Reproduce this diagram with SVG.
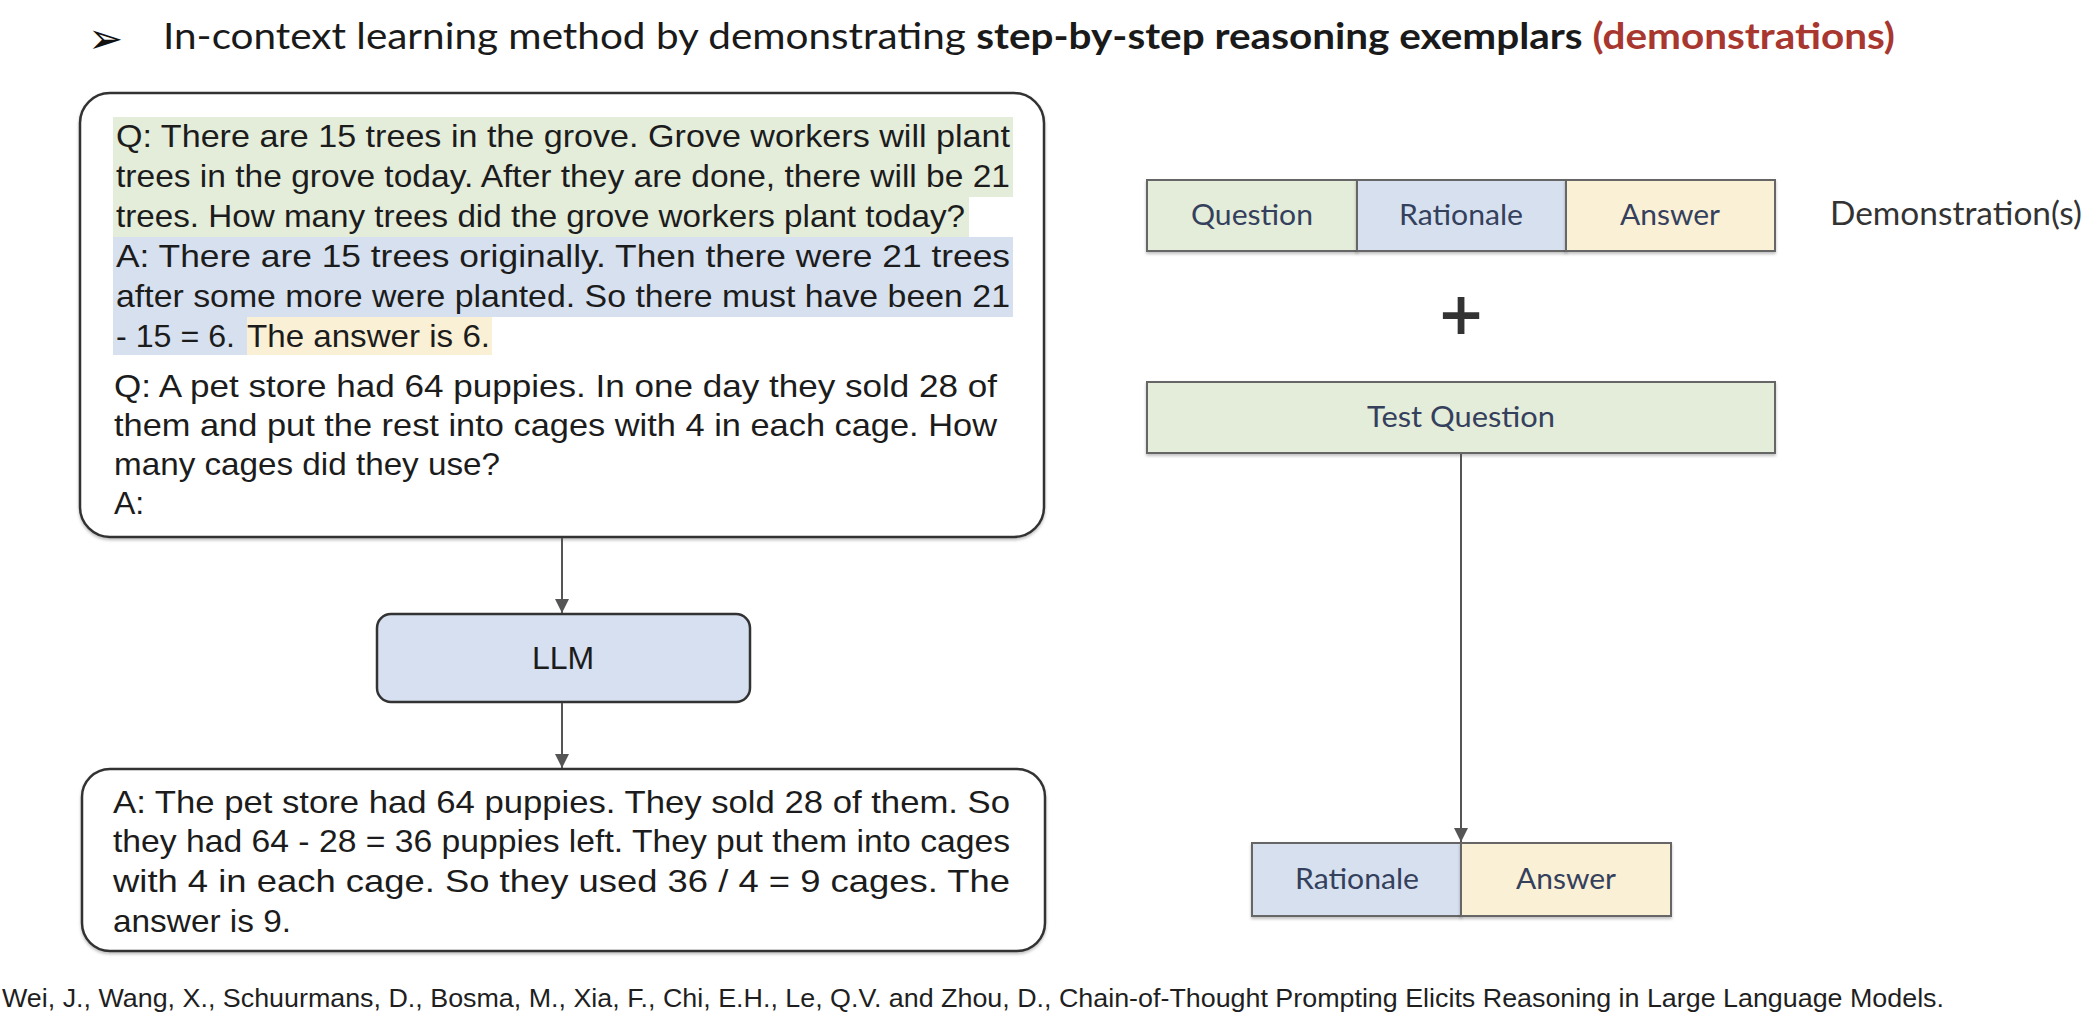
<svg xmlns="http://www.w3.org/2000/svg" width="2090" height="1022" viewBox="0 0 2090 1022">
<style>
.body{font-family:"Liberation Sans",Arial,sans-serif;font-size:32px;fill:#1c1c1c}
.lbl{font-family:Lato,"Open Sans",sans-serif;font-size:29px;fill:#34405c;text-anchor:middle}
.box{stroke:#333;stroke-width:2.5}
.cell{stroke:#666;stroke-width:2}
.conn{stroke:#555;stroke-width:2;fill:none}
.g{fill:#e4ecda}.b{fill:#d6e0ef}.y{fill:#faf0d6}
</style>
<defs>
<marker id="ah" viewBox="0 0 10 10" refX="10" refY="5" markerWidth="7" markerHeight="8" markerUnits="strokeWidth" orient="auto">
<path d="M0,0 L10,5 L0,10 z" fill="#555"/>
</marker>
<filter id="sh" x="-5%" y="-5%" width="110%" height="115%">
<feDropShadow dx="0" dy="2" stdDeviation="1.5" flood-color="#000" flood-opacity="0.25"/>
</filter>
</defs>
<rect width="2090" height="1022" fill="#ffffff"/>

<g id="title">
<text x="88" y="53" font-family="DejaVu Sans,sans-serif" font-size="42" fill="#111">➢</text>
<text x="163" y="49" font-family="Lato,'Open Sans',sans-serif" font-size="36" fill="#1a1a1a" textLength="1732" lengthAdjust="spacingAndGlyphs">In-context learning method by demonstrating <tspan font-weight="bold">step-by-step reasoning exemplars</tspan><tspan font-weight="bold" fill="#a8372f"> (demonstrations)</tspan></text>
</g>

<g id="prompt-box">
<rect class="box" x="80" y="93" width="964" height="444" rx="30" fill="#fff" filter="url(#sh)"/>
<rect class="g" x="113" y="117" width="900" height="80"/>
<rect class="g" x="113" y="197" width="856" height="40"/>
<rect class="b" x="113" y="237" width="900" height="80"/>
<rect class="b" x="113" y="317" width="134" height="38"/>
<rect class="y" x="247" y="317" width="245" height="38"/>
<text class="body" x="116" y="147" textLength="894" lengthAdjust="spacingAndGlyphs">Q: There are 15 trees in the grove. Grove workers will plant</text>
<text class="body" x="116" y="187" textLength="894" lengthAdjust="spacingAndGlyphs">trees in the grove today. After they are done, there will be 21</text>
<text class="body" x="116" y="227" textLength="849" lengthAdjust="spacingAndGlyphs">trees. How many trees did the grove workers plant today?</text>
<text class="body" x="116" y="267" textLength="894" lengthAdjust="spacingAndGlyphs">A: There are 15 trees originally. Then there were 21 trees</text>
<text class="body" x="116" y="307" textLength="894" lengthAdjust="spacingAndGlyphs">after some more were planted. So there must have been 21</text>
<text class="body" x="116" y="347" textLength="119" lengthAdjust="spacingAndGlyphs">- 15 = 6.</text>
<text class="body" x="247" y="347" textLength="243" lengthAdjust="spacingAndGlyphs">The answer is 6.</text>
<text class="body" x="114" y="397" textLength="883" lengthAdjust="spacingAndGlyphs">Q: A pet store had 64 puppies. In one day they sold 28 of</text>
<text class="body" x="114" y="436" textLength="883" lengthAdjust="spacingAndGlyphs">them and put the rest into cages with 4 in each cage. How</text>
<text class="body" x="114" y="475" textLength="386" lengthAdjust="spacingAndGlyphs">many cages did they use?</text>
<text class="body" x="114" y="514">A:</text>
</g>

<g id="llm">
<rect class="box" x="377" y="614" width="373" height="88" rx="14" fill="#d6e0f0"/>
<text class="body" x="563" y="669" text-anchor="middle">LLM</text>
</g>

<g id="output-box">
<rect class="box" x="82" y="769" width="963" height="182" rx="28" fill="#fff" filter="url(#sh)"/>
<text class="body" x="113" y="813" textLength="897" lengthAdjust="spacingAndGlyphs">A: The pet store had 64 puppies. They sold 28 of them. So</text>
<text class="body" x="113" y="852" textLength="897" lengthAdjust="spacingAndGlyphs">they had 64 - 28 = 36 puppies left. They put them into cages</text>
<text class="body" x="113" y="892" textLength="897" lengthAdjust="spacingAndGlyphs">with 4 in each cage. So they used 36 / 4 = 9 cages. The</text>
<text class="body" x="113" y="932" textLength="178" lengthAdjust="spacingAndGlyphs">answer is 9.</text>
</g>

<g id="demonstration">
<rect class="cell g" x="1147" y="180" width="210" height="71" filter="url(#sh)"/>
<rect class="cell b" x="1357" y="180" width="209" height="71" filter="url(#sh)"/>
<rect class="cell y" x="1566" y="180" width="209" height="71" filter="url(#sh)"/>
<text class="lbl" x="1252" y="225" textLength="122" lengthAdjust="spacingAndGlyphs">Question</text>
<text class="lbl" x="1461" y="225" textLength="124" lengthAdjust="spacingAndGlyphs">Rationale</text>
<text class="lbl" x="1670" y="225" textLength="100" lengthAdjust="spacingAndGlyphs">Answer</text>
<text x="1830" y="225" font-family="Lato,'Open Sans',sans-serif" font-size="32" fill="#333" textLength="252" lengthAdjust="spacingAndGlyphs">Demonstration(s)</text>
</g>

<g id="plus">
<text x="1461" y="334" text-anchor="middle" font-family="DejaVu Sans,sans-serif" font-weight="bold" font-size="58" fill="#333">+</text>
</g>

<g id="test-question">
<rect class="cell g" x="1147" y="382" width="628" height="71" filter="url(#sh)"/>
<text class="lbl" x="1461" y="427" textLength="188" lengthAdjust="spacingAndGlyphs">Test Question</text>
</g>

<g id="output-cells">
<rect class="cell b" x="1252" y="843" width="209" height="73" filter="url(#sh)"/>
<rect class="cell y" x="1461" y="843" width="210" height="73" filter="url(#sh)"/>
<text class="lbl" x="1357" y="889" textLength="124" lengthAdjust="spacingAndGlyphs">Rationale</text>
<text class="lbl" x="1566" y="889" textLength="100" lengthAdjust="spacingAndGlyphs">Answer</text>
</g>

<g id="connectors">
<line class="conn" x1="562" y1="538" x2="562" y2="613" marker-end="url(#ah)"/>
<line class="conn" x1="562" y1="703" x2="562" y2="768" marker-end="url(#ah)"/>
<line class="conn" x1="1461" y1="454" x2="1461" y2="842" marker-end="url(#ah)"/>
</g>

<g id="citation">
<text x="2" y="1007" font-family="'Liberation Sans',Arial,sans-serif" font-size="25" fill="#1f1f1f" textLength="1942" lengthAdjust="spacingAndGlyphs">Wei, J., Wang, X., Schuurmans, D., Bosma, M., Xia, F., Chi, E.H., Le, Q.V. and Zhou, D., Chain-of-Thought Prompting Elicits Reasoning in Large Language Models.</text>
</g>
</svg>
